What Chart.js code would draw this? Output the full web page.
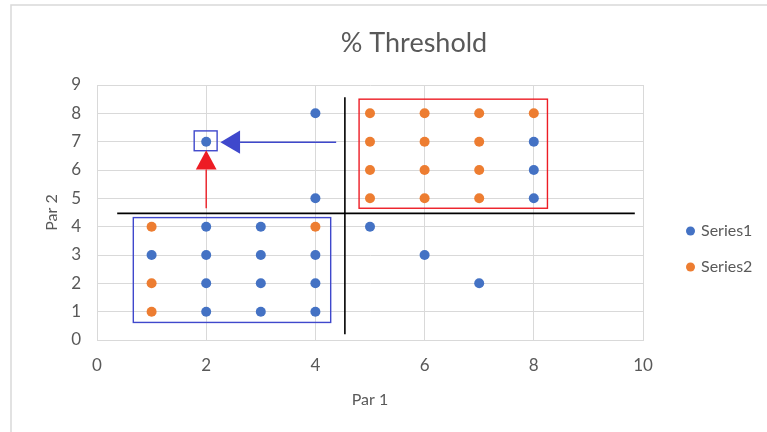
<!DOCTYPE html>
<html>
<head>
<meta charset="utf-8">
<script src="https://cdn.jsdelivr.net/npm/chart.js@4/dist/chart.umd.min.js"></script>
<style>
  html, body { margin: 0; padding: 0; background: #ffffff; }
</style>
</head>
<body>
<canvas id="chart" width="767" height="432"></canvas>
<script>
// Series values (Par 1 on x, Par 2 on y)
const series1X = [2, 4, 4, 2, 3, 1, 2, 3, 4, 2, 3, 4, 2, 3, 4, 5, 6, 7, 8, 8, 8];
const series1Y = [7, 8, 5, 4, 4, 3, 3, 3, 3, 2, 2, 2, 1, 1, 1, 4, 3, 2, 7, 6, 5];
const series2X = [1, 4, 1, 1, 5, 6, 7, 8, 5, 6, 7, 5, 6, 7, 5, 6, 7];
const series2Y = [4, 4, 2, 1, 8, 8, 8, 8, 7, 7, 7, 6, 6, 6, 5, 5, 5];
const seriesNames = ['Series1', 'Series2'];

// Axis ranges and tick steps
const xRange = [0, 10];
const xStep = 2;
const yRange = [0, 9];
const yStep = 1;

const chartTitle = '% Threshold';
const xTitle = 'Par 1';
const yTitle = 'Par 2';

// Threshold guides, boxes and arrows, in axis units
const thresholdLines = [
  { x1: 0.37, y1: 4.47, x2: 9.85, y2: 4.47 },
  { x1: 4.54, y1: 0.2, x2: 4.54, y2: 8.57 }
];
const regionBoxes = [
  { x1: 0.665, y1: 0.62, x2: 4.28, y2: 4.32, color: '#3F48CC' },
  { x1: 4.80, y1: 4.65, x2: 8.25, y2: 8.50, color: '#ED1C24' },
  { x1: 1.78, y1: 6.68, x2: 2.20, y2: 7.38, color: '#3F48CC' }
];
const pointerArrows = [
  // shaft start, head base, head tip, head half-size (perpendicular, in axis units)
  { from: [4.38, 6.98], base: [2.62, 6.98], tip: [2.26, 6.98], half: 0.41, color: '#3F48CC' },
  { from: [2.00, 4.65], base: [2.00, 6.02], tip: [2.00, 6.70], half: 0.19, color: '#ED1C24' }
];

const toPoints = (xs, ys) => xs.map((x, i) => ({ x: x, y: ys[i] }));

const TEXT = '#595959';
const GRID = '#D9D9D9';
const FONT = 'Lato, "Open Sans", sans-serif';

const decorations = {
  id: 'decorations',
  beforeDraw(chart) {
    const ctx = chart.ctx;
    ctx.save();
    ctx.fillStyle = '#ffffff';
    ctx.fillRect(0, 0, chart.width, chart.height);
    // outer frame of the chart object
    ctx.strokeStyle = GRID;
    ctx.lineWidth = 1.5;
    ctx.beginPath();
    ctx.moveTo(11, chart.height);
    ctx.lineTo(11, 5);
    ctx.lineTo(chart.width, 5);
    ctx.stroke();
    ctx.restore();
  },
  afterDatasetsDraw(chart) {
    const ctx = chart.ctx;
    const xs = chart.scales.x, ys = chart.scales.y;
    const px = v => xs.getPixelForValue(v);
    const py = v => ys.getPixelForValue(v);
    ctx.save();
    // black threshold lines
    ctx.strokeStyle = '#000000';
    ctx.lineWidth = 1.6;
    thresholdLines.forEach(l => {
      ctx.beginPath();
      ctx.moveTo(px(l.x1), py(l.y1));
      ctx.lineTo(px(l.x2), py(l.y2));
      ctx.stroke();
    });
    // region boxes
    ctx.lineWidth = 1.4;
    regionBoxes.forEach(b => {
      ctx.strokeStyle = b.color;
      const l = px(b.x1), r = px(b.x2), t = py(b.y2), btm = py(b.y1);
      ctx.strokeRect(l, t, r - l, btm - t);
    });
    // arrows
    pointerArrows.forEach(a => {
      ctx.strokeStyle = a.color;
      ctx.fillStyle = a.color;
      ctx.lineWidth = 1.4;
      ctx.beginPath();
      ctx.moveTo(px(a.from[0]), py(a.from[1]));
      ctx.lineTo(px(a.base[0]), py(a.base[1]));
      ctx.stroke();
      const horizontal = a.from[1] === a.tip[1];
      ctx.beginPath();
      ctx.moveTo(px(a.tip[0]), py(a.tip[1]));
      if (horizontal) {
        ctx.lineTo(px(a.base[0]), py(a.base[1] + a.half));
        ctx.lineTo(px(a.base[0]), py(a.base[1] - a.half));
      } else {
        ctx.lineTo(px(a.base[0] - a.half), py(a.base[1]));
        ctx.lineTo(px(a.base[0] + a.half), py(a.base[1]));
      }
      ctx.closePath();
      ctx.fill();
    });
    ctx.restore();
  },
  afterDraw(chart) {
    const ctx = chart.ctx;
    ctx.save();
    // title
    ctx.fillStyle = TEXT;
    ctx.font = '27px ' + FONT;
    ctx.textAlign = 'center';
    ctx.textBaseline = 'middle';
    ctx.fillText(chartTitle, 414, 43);
    // legend
    ctx.font = '16px ' + FONT;
    ctx.textAlign = 'left';
    chart.data.datasets.forEach((ds, i) => {
      const y = 231 + i * 36;
      ctx.fillStyle = ds.backgroundColor;
      ctx.beginPath();
      ctx.arc(690.5, y, 4.5, 0, Math.PI * 2);
      ctx.fill();
      ctx.fillStyle = TEXT;
      ctx.fillText(ds.label, 701, y);
    });
    ctx.restore();
  }
};

new Chart(document.getElementById('chart'), {
  type: 'scatter',
  data: {
    datasets: [
      {
        label: seriesNames[0],
        data: toPoints(series1X, series1Y),
        backgroundColor: '#4472C4',
        borderWidth: 0,
        pointRadius: 5
      },
      {
        label: seriesNames[1],
        data: toPoints(series2X, series2Y),
        backgroundColor: '#ED7D31',
        borderWidth: 0,
        pointRadius: 5
      }
    ]
  },
  options: {
    responsive: false,
    animation: false,
    events: [],
    layout: { padding: { top: 85, right: 124, bottom: 0, left: 0 } },
    plugins: {
      legend: { display: false },
      title: { display: false },
      tooltip: { enabled: false }
    },
    scales: {
      x: {
        type: 'linear',
        min: xRange[0],
        max: xRange[1],
        ticks: { stepSize: xStep, color: TEXT, font: { family: FONT, size: 17 }, padding: 15 },
        grid: { color: GRID, drawTicks: false },
        border: { color: GRID },
        title: { display: true, text: xTitle, color: TEXT, font: { family: FONT, size: 16 }, padding: { top: 0, bottom: 23 } },
        afterFit(scale) { scale.height = 92; }
      },
      y: {
        type: 'linear',
        min: yRange[0],
        max: yRange[1],
        ticks: { stepSize: yStep, color: TEXT, font: { family: FONT, size: 17 }, padding: 16 },
        grid: { color: GRID, drawTicks: false },
        border: { color: GRID },
        title: { display: true, text: yTitle, color: TEXT, font: { family: FONT, size: 16 }, padding: { top: 42, bottom: 0 } },
        afterFit(scale) { scale.width = 97; }
      }
    }
  },
  plugins: [decorations]
});
</script>
</body>
</html>
